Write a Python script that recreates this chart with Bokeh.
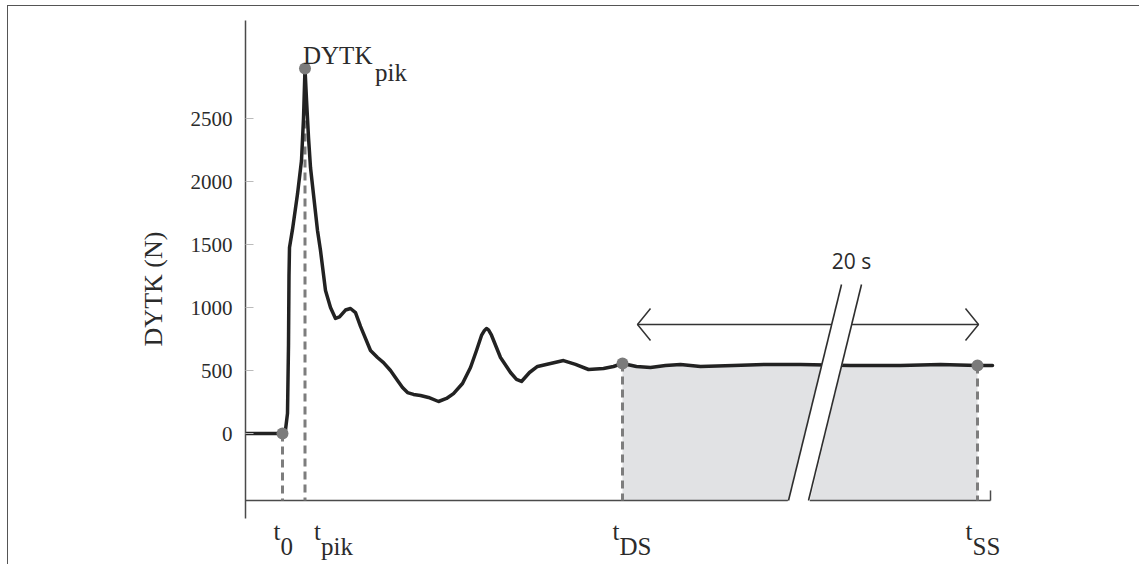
from bokeh.plotting import figure
from bokeh.models import Range1d, FixedTicker, ColumnDataSource
from bokeh.core.properties import value
from bokeh.embed import file_html
from bokeh.resources import INLINE

# ---- data (schematic time units, force in N) ----
time = [0.0, 3.7, 4.0, 4.2, 4.3, 4.35, 4.4, 4.7, 5.2, 5.6, 5.8, 5.95, 6.1, 6.3, 6.5,
        7.2, 7.5, 8.0, 8.5, 9.0, 9.4, 10.0, 10.5, 11.0, 11.5, 12.5, 13.2, 13.8, 14.5, 15.2,
        15.7, 16.2, 16.8, 17.5, 18.3, 19.3, 20.1, 20.8, 21.7, 22.5, 23.1, 23.6, 23.9, 24.1,
        24.3, 24.6, 25.5, 26.5, 27.1, 27.6, 28.4, 29.2, 30.5, 31.8, 33.0, 34.3, 35.8, 36.8,
        37.7, 39.1, 40.5, 42.0, 43.5, 45.5, 48.8, 52.2, 55.5, 60.5, 65.5, 69.5, 73.2, 74.7]
force = [0, 0, 30, 160, 700, 1250, 1476, 1620, 1900, 2167, 2500, 2897, 2650, 2350, 2111,
         1611, 1452, 1135, 1000, 913, 925, 980, 992, 960, 850, 659, 603, 563, 500, 421,
         365, 325, 310, 302, 286, 254, 278, 317, 397, 524, 659, 778, 818, 833,
         822, 780, 603, 484, 429, 413, 484, 532, 556, 579, 548, 508, 516, 532,
         556, 532, 524, 540, 548, 532, 540, 548, 548, 540, 540, 548, 540, 540]

event_names = ["0", "pik", "DS", "SS"]
event_times = [3.7, 5.95, 37.7, 73.2]
event_forces = [0, 2897, 556, 540]

y_ticks = [0, 500, 1000, 1500, 2000, 2500]
y_tick_labels = ["0", "500", "1000", "1500", "2000", "2500"]
y_label = "DYTK (N)"
peak_label = "DYTK"
peak_sub = "pik"
span_label = "20 s"

axis_level = -532          # force value where the time axis is drawn
y_axis_bounds = (-675, 3278)
x_axis_end = 74.5
arrow_level = 865
arrow_start = 39.2
arrow_end = 73.3
break_bottom_left = 54.3
break_gap = 2.0
break_top = 1183
break_lean = 5.3

SERIF = "Liberation Serif"
TXT = "#2b2b2b"

p = figure(width=1132, height=559,
           x_range=Range1d(0, 89.5), y_range=Range1d(-1047.6, 3341.3),
           output_backend="svg", toolbar_location=None,
           x_axis_location=None,
           min_border_left=237, min_border_right=0,
           min_border_top=6, min_border_bottom=0)
p.styles = {"margin-left": "7px", "margin-top": "5px",
            "border-left": "1px solid #555555", "border-top": "1px solid #555555"}
p.outline_line_color = None
p.xgrid.visible = False
p.ygrid.visible = False
p.background_fill_color = "white"
p.border_fill_color = "white"

ax = p.yaxis[0]
ax.ticker = FixedTicker(ticks=y_ticks)
ax.major_label_overrides = {t: l for t, l in zip(y_ticks, y_tick_labels)}
ax.bounds = y_axis_bounds
ax.axis_line_color = "#4a4a4a"
ax.axis_line_width = 1.5
ax.major_tick_in = 8
ax.major_tick_out = 0
ax.major_tick_line_color = "#bbbbbb"
ax.minor_tick_line_color = None
ax.major_label_standoff = 13
ax.major_label_text_font = SERIF
ax.major_label_text_font_size = "21px"
ax.major_label_text_color = TXT
ax.axis_label = y_label
ax.axis_label_text_font = SERIF
ax.axis_label_text_font_size = "26px"
ax.axis_label_text_font_style = "normal"
ax.axis_label_text_color = TXT
ax.axis_label_standoff = 20

# shaded region between t_DS and t_SS
sel = [i for i, t in enumerate(time) if event_times[2] <= t <= event_times[3]]
p.varea(x=[time[i] for i in sel], y1=[axis_level] * len(sel),
        y2=[force[i] for i in sel], fill_color="#e1e2e4")

# time axis line and end tick
p.segment(x0=[0, x_axis_end], y0=[axis_level, axis_level],
          x1=[x_axis_end, x_axis_end], y1=[axis_level, axis_level + 80],
          line_color="#4a4a4a", line_width=1.5)

# dashed drop lines
p.segment(x0=event_times, y0=event_forces, x1=event_times, y1=[axis_level] * 4,
          line_color="#7d7d7d", line_width=3, line_dash="8 5")

# curve
p.line(time, force, line_color="#222222", line_width=3.5, line_join="round",
       line_cap="round")

# double arrow
hx, hy = 1.3, 127
p.segment(x0=[arrow_start], y0=[arrow_level], x1=[arrow_end], y1=[arrow_level],
          line_color="#333333", line_width=1.5)
p.multi_line(xs=[[arrow_start + hx, arrow_start, arrow_start + hx],
                 [arrow_end - hx, arrow_end, arrow_end - hx]],
             ys=[[arrow_level + hy, arrow_level, arrow_level - hy]] * 2,
             line_color="#333333", line_width=1.5)

# axis break
bl0 = break_bottom_left
bl1 = break_bottom_left + break_lean
p.patch(x=[bl0 - 0.1, bl1, bl1 + break_gap, bl0 + break_gap + 0.1],
        y=[axis_level - 14, break_top, break_top, axis_level - 14],
        fill_color="white", line_color=None)
p.segment(x0=[bl0, bl0 + break_gap], y0=[axis_level] * 2,
          x1=[bl1, bl1 + break_gap], y1=[break_top] * 2,
          line_color="#2e2e2e", line_width=1.6)

# event markers
p.scatter(event_times, event_forces, size=12, fill_color="#7b7b7b", line_color=None)

# labels
p.text(x=[event_times[1]], y=[event_forces[1]], text=[peak_label],
       x_offset=-2, y_offset=-13, text_font=value(SERIF), text_font_size="25px",
       text_color=TXT, text_align="left", text_baseline="alphabetic")
p.text(x=[event_times[1]], y=[event_forces[1]], text=[peak_sub],
       x_offset=70, y_offset=4, text_font=value(SERIF), text_font_size="25px",
       text_color=TXT, text_align="left", text_baseline="alphabetic")

lab = ColumnDataSource(dict(x=event_times, y=[axis_level] * 4,
                            t=["t"] * 4, sub=event_names,
                            dx=[-2, 16, -3, -5]))
p.text(x="x", y="y", text="t", x_offset="dx", y_offset=31, source=lab,
       text_font=value(SERIF), text_font_size="25px", text_color=TXT,
       text_align="right", text_baseline="alphabetic")
p.text(x="x", y="y", text="sub", x_offset="dx", y_offset=46, source=lab,
       text_font=value(SERIF), text_font_size="25px", text_color=TXT,
       text_align="left", text_baseline="alphabetic")

p.text(x=[bl1 + break_gap / 2], y=[arrow_level], text=[span_label], y_offset=-64,
       text_font=value("Open Sans"), text_font_size="21px", text_color=TXT,
       text_align="center", text_baseline="middle")

open("out.html", "w").write(file_html(p, INLINE))
